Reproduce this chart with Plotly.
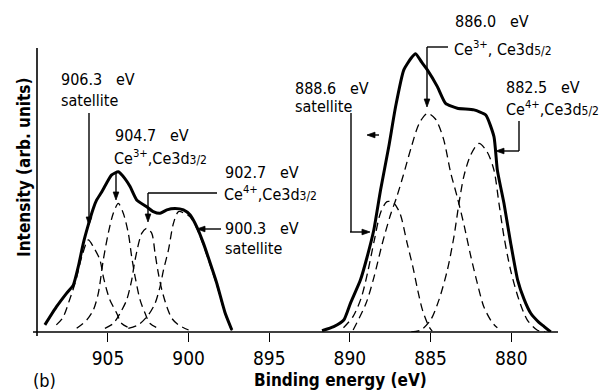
import plotly.graph_objects as go

# ---------------- data ----------------
main_left_e = [908.91, 908.19, 907.57, 907.15, 906.84, 906.53, 906.22, 905.91, 905.70, 905.39,
               905.08, 904.77, 904.36, 903.95, 903.63, 903.22, 902.60, 902.19, 901.77, 901.35,
               900.84, 900.32, 899.90, 899.50, 899.08, 898.66, 898.25, 897.73, 897.32]
main_left_i = [2.5, 8.9, 13.6, 16.5, 23.0, 31.2, 37.7, 43.5, 46.5, 49.3,
               52.5, 55.3, 56.4, 54.0, 51.2, 46.5, 44.1, 42.4, 41.8, 43.0,
               43.5, 43.0, 41.2, 37.1, 31.2, 24.2, 17.1, 6.6, 0.7]

main_right_e = [891.73, 891.00, 890.38, 889.97, 889.35, 888.93, 888.52, 888.10, 887.59, 887.17,
                886.66, 886.20, 885.93, 885.55, 885.20, 884.58, 884.07, 883.34, 882.31, 881.58,
                881.07, 880.86, 880.45, 880.03, 879.60, 879.20, 878.79, 878.30, 877.96, 877.55]
main_right_i = [0.5, 1.9, 4.2, 10.1, 18.3, 26.5, 35.9, 50.0, 65.3, 79.3,
                92.3, 96.5, 98.0, 95.0, 92.3, 86.4, 80.5, 78.8, 78.2, 76.4,
                68.8, 57.0, 45.3, 31.2, 18.3, 11.5, 6.6, 3.5, 1.9, 0.0]

sat_906_e = [908.2, 907.8, 907.4, 907.0, 906.6, 906.22, 905.91, 905.5, 905.29, 905.08, 904.88, 904.46, 904.15, 903.63]
sat_906_i = [2.5, 5.0, 11.0, 18.0, 27.0, 32.4, 30.0, 25.4, 19.5, 14.8, 11.3, 6.6, 3.0, 1.3]

ce3_d32_e = [906.94, 906.32, 905.91, 905.6, 905.29, 904.98, 904.67, 904.36, 904.05, 903.74,
             903.53, 903.32, 903.01, 902.7, 902.39, 901.88]
ce3_d32_i = [1.3, 4.2, 7.7, 13.6, 25.4, 34.8, 41.8, 45.3, 41.8, 34.8,
             26.5, 19.5, 11.3, 6.6, 3.0, 1.3]

ce4_d32_e = [905.19, 904.67, 904.25, 903.84, 903.53, 903.32, 902.9, 902.6, 902.29, 902.08,
             901.88, 901.66, 901.35, 901.04, 900.63, 900.0]
ce4_d32_i = [1.3, 3.0, 6.6, 11.3, 18.3, 25.4, 34.8, 36.5, 34.8, 27.7,
             20.7, 14.8, 8.9, 4.8, 2.5, 0.7]

sat_900_e = [903.74, 903.12, 902.5, 902.08, 901.77, 901.56, 901.25, 900.94, 900.63, 900.32,
             899.9, 899.5, 899.08, 898.66, 898.25, 897.73, 897.32]
sat_900_i = [1.3, 2.5, 6.0, 10.1, 16.0, 21.8, 28.9, 38.3, 42.4, 42.0,
             40.5, 36.5, 30.5, 23.5, 16.5, 6.2, 0.5]

sat_888_e = [890.4, 889.8, 889.3, 888.9, 888.5, 888.1, 887.7, 887.3, 886.9, 886.45,
             886.1, 885.8, 885.5, 885.1, 884.9]
sat_888_i = [1.5, 5.5, 12.0, 21.0, 32.0, 42.0, 45.9, 45.5, 41.8, 31.2,
             23.0, 14.8, 7.7, 1.9, 0.3]

ce3_d52_e = [889.8, 889.0, 888.5, 888.0, 887.5, 887.1, 886.7, 886.2, 885.7, 885.2,
             884.7, 884.2, 883.75, 883.35, 882.9, 882.5, 882.1, 881.7, 881.2, 880.86]
ce3_d52_i = [0.7, 10.1, 19.5, 31.0, 41.0, 47.5, 55.0, 65.0, 73.5, 77.0,
             75.0, 68.0, 56.0, 47.6, 37.0, 26.5, 17.1, 8.9, 3.5, 1.5]

ce4_d52_e = [886.2, 885.6, 885.0, 884.48, 883.96, 883.55, 883.24, 882.93, 882.5, 882.0,
             881.5, 881.07, 880.76, 880.45, 880.04, 879.52, 879.0, 878.4, 877.9]
ce4_d52_i = [0.0, 0.7, 4.2, 11.3, 21.8, 33.6, 45.3, 55.0, 62.5, 66.4,
             63.5, 57.0, 45.3, 33.6, 21.8, 11.3, 4.2, 0.7, 0.0]

x_ticks = [905, 900, 895, 890, 885, 880]
x_range = [909.4, 877.1]
y_range = [0, 100]

# ---------------- layout helpers (pixel -> paper) ----------------
W, H = 613, 391
L, R, T, B = 37, 558, 48, 332


def px(p):
    return (p - L) / (R - L)


def py(p):
    return (B - p) / (B - T)


ANN_FONT = dict(family="DejaVu Sans Condensed, DejaVu Sans, sans-serif", size=16, color="black")
SP = "&nbsp;&nbsp;&nbsp;"

fig = go.Figure()

dash_style = dict(color="black", width=1.3, dash="8px,5px", shape="spline", smoothing=0.8)
for e, i in [(sat_906_e, sat_906_i), (ce3_d32_e, ce3_d32_i), (ce4_d32_e, ce4_d32_i),
             (sat_900_e, sat_900_i), (sat_888_e, sat_888_i), (ce3_d52_e, ce3_d52_i),
             (ce4_d52_e, ce4_d52_i)]:
    fig.add_trace(go.Scatter(x=e, y=i, mode="lines", line=dash_style, hoverinfo="skip"))

main_style = dict(color="black", width=3, shape="spline", smoothing=0.5)
fig.add_trace(go.Scatter(x=main_left_e, y=main_left_i, mode="lines", line=main_style))
fig.add_trace(go.Scatter(x=main_right_e, y=main_right_i, mode="lines", line=main_style))

annotations = []
shapes = []


def text(x, y, s, font=ANN_FONT, anchor="left"):
    annotations.append(dict(xref="paper", yref="paper", x=px(x), y=py(y), text=s,
                            showarrow=False, xanchor=anchor, yanchor="middle", font=font))


def seg(x0, y0, x1, y1, w=1.4):
    shapes.append(dict(type="line", xref="paper", yref="paper", x0=px(x0), y0=py(y0),
                       x1=px(x1), y1=py(y1), line=dict(color="black", width=w)))


def arrow(x0, y0, x1, y1, hl=8.0, hw=2.8):
    # tail (x0,y0) -> tip (x1,y1), in pixels; line + filled triangular head
    dx, dy = x1 - x0, y1 - y0
    n = (dx * dx + dy * dy) ** 0.5
    ux, uy = dx / n, dy / n
    bx, by = x1 - ux * hl, y1 - uy * hl
    seg(x0, y0, bx, by)
    pts = [(x1, y1), (bx - uy * hw, by + ux * hw), (bx + uy * hw, by - ux * hw)]
    path = "M " + " L ".join("%.5f,%.5f" % (px(a), py(b)) for a, b in pts) + " Z"
    shapes.append(dict(type="path", xref="paper", yref="paper", path=path,
                       fillcolor="black", line=dict(color="black", width=0.8)))


sub = "<span style='font-size:12px'>%s</span>"

text(59, 80, "906.3" + SP + "eV")
text(59, 100, "satellite")
arrow(89, 113, 89, 225)

text(113, 135, "904.7" + SP + "eV")
text(112, 157, "Ce<sup>3+</sup>,Ce3d" + sub % "3/2")
arrow(116, 173, 116, 200)

text(223, 172, "902.7" + SP + "eV")
text(222, 193, "Ce<sup>4+</sup>,Ce3d" + sub % "3/2")
seg(217, 193, 148, 193)
arrow(148, 193, 148, 222)

text(223, 229, "900.3" + SP + "eV")
text(223, 248, "satellite")
arrow(221, 229, 197, 229)

text(293, 88, "888.6" + SP + "eV")
text(293, 107, "satellite")
seg(351, 113, 351, 232)
arrow(350, 232, 370, 232)
arrow(379, 135, 367, 135)

text(453, 22, "886.0" + SP + "eV")
text(452, 48, "Ce<sup>3+</sup>, Ce3d" + sub % "5/2")
seg(448, 47, 427, 47)
arrow(427, 47, 427, 107)

text(504, 87, "882.5" + SP + "eV")
text(504, 108, "Ce<sup>4+</sup>,Ce3d" + sub % "5/2")
seg(519, 121, 519, 151)
arrow(519, 151, 496, 151)

TITLE_FONT = dict(family="DejaVu Sans Condensed, DejaVu Sans, sans-serif", size=17, color="black")
text(31, 380, "(b)", dict(family="DejaVu Sans Condensed, DejaVu Sans, sans-serif", size=18, color="black"))
text(340, 380, "<b>Binding energy (eV)</b>", TITLE_FONT, anchor="center")
annotations.append(dict(xref="paper", yref="paper", x=px(24), y=py(168), text="<b>Intensity (arb. units)</b>",
                        showarrow=False, xanchor="center", yanchor="middle", textangle=-90, font=TITLE_FONT))

# axis lines (crossing at the origin)
seg(33, B, 558, B, 1.6)
seg(L, B + 4, L, T, 1.6)

fig.update_layout(
    width=W, height=H,
    margin=dict(l=L, r=W - R, t=T, b=H - B),
    paper_bgcolor="white", plot_bgcolor="white",
    showlegend=False,
    annotations=annotations,
    shapes=shapes,
    xaxis=dict(range=x_range, tickmode="array", tickvals=x_ticks, ticktext=[str(v) for v in x_ticks],
               ticks="outside", ticklen=9, tickwidth=1.4, tickcolor="black",
               showgrid=False, zeroline=False, showline=False,
               tickfont=dict(family="DejaVu Sans Condensed, DejaVu Sans, sans-serif", size=19, color="black")),
    yaxis=dict(range=y_range, showticklabels=False, ticks="", showgrid=False, zeroline=False, showline=False),
)

fig.write_html("out.html", config={"displayModeBar": False},
               post_script="document.body.style.margin='0';document.body.style.overflow='hidden';")
